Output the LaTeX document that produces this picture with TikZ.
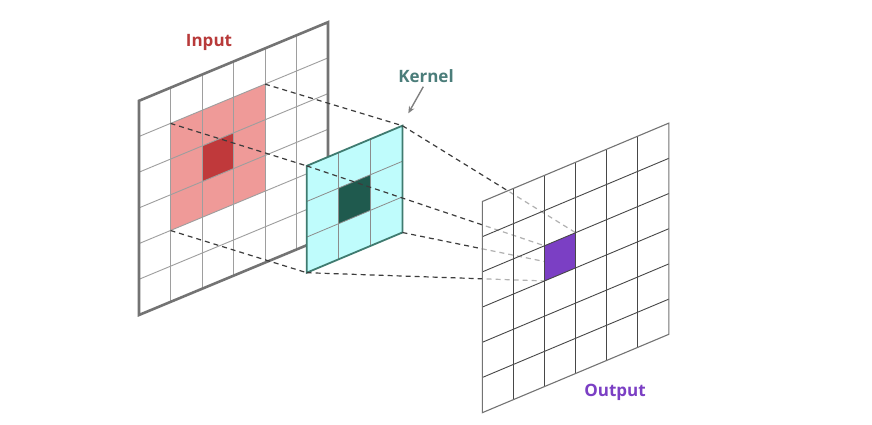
\documentclass[tikz,border=0pt]{standalone}
\usepackage{fontspec}
\setmainfont{Open Sans}
\usetikzlibrary{arrows.meta}
\definecolor{inred}{HTML}{B83A3A}
\definecolor{redlight}{HTML}{EF9A98}
\definecolor{reddark}{HTML}{C0393B}
\definecolor{kteal}{HTML}{4B7D7A}
\definecolor{kfill}{HTML}{BFFCFC}
\definecolor{kdark}{HTML}{1F5A4E}
\definecolor{kborder}{HTML}{3F7B70}
\definecolor{outpurple}{HTML}{7B3FC4}
\definecolor{dashgray}{HTML}{3C3C3C}
\tikzset{
  ingrid/.style={draw=black!38, line width=0.9pt},
  inborder/.style={draw=black!55, line width=2.6pt, line join=miter},
  kgrid/.style={draw=black!45, line width=0.8pt},
  kframe/.style={draw=kborder, line width=1.8pt},
  outgrid/.style={draw=black!72, line width=0.9pt},
  outframe/.style={draw=black!55, line width=1.1pt},
  dashline/.style={draw=dashgray, line width=1.2pt, dash pattern=on 5pt off 4pt},
  lbl/.style={font=\bfseries\fontsize{17}{19}\selectfont, inner sep=0pt},
}
\begin{document}
\begin{tikzpicture}[x=1pt,y=-1pt]
\useasboundingbox[fill=white] (0,0) rectangle (872,425);

% ---------- Input plane ----------
\begin{scope}[shift={(139,315)}, x={(31.5pt,13.1pt)}, y={(0pt,35.7pt)}]
  \fill[white] (0,0) -- (6,0) -- (6,6) -- (0,6) -- cycle;
  \fill[redlight] (1,2) -- (4,2) -- (4,5) -- (1,5) -- cycle;
  \fill[reddark] (2,3) -- (3,3) -- (3,4) -- (2,4) -- cycle;
  \foreach \i in {1,...,5} {
    \draw[ingrid] (\i,0) -- (\i,6);
    \draw[ingrid] (0,\i) -- (6,\i);
  }
  \draw[inborder] (0,0) -- (6,0) -- (6,6) -- (0,6) -- cycle;
  \coordinate (intl) at (1,5);
  \coordinate (intr) at (4,5);
  \coordinate (inbl) at (1,2);
\end{scope}

% ---------- Kernel plane coordinates ----------
\begin{scope}[shift={(306.7,272.7)}, x={(31.9pt,13.4pt)}, y={(0pt,35.6pt)}]
  \coordinate (ktl) at (0,3);
  \coordinate (ktr) at (3,3);
  \coordinate (kbl) at (0,0);
  \coordinate (kbr) at (3,0);
\end{scope}

% dashed lines input -> kernel
\draw[dashline] (intl) -- (ktl);
\draw[dashline] (intr) -- (ktr);
\draw[dashline] (inbl) -- (kbl);

% ---------- Kernel plane ----------
\begin{scope}[shift={(306.7,272.7)}, x={(31.9pt,13.4pt)}, y={(0pt,35.6pt)}]
  \fill[kfill] (0,0) -- (3,0) -- (3,3) -- (0,3) -- cycle;
  \fill[kdark] (1,1) -- (2,1) -- (2,2) -- (1,2) -- cycle;
  \foreach \i in {1,2} {
    \draw[kgrid] (\i,0) -- (\i,3);
    \draw[kgrid] (0,\i) -- (3,\i);
  }
  \draw[kframe] (0,0) -- (3,0) -- (3,3) -- (0,3) -- cycle;
\end{scope}

% ---------- Output plane coordinates ----------
\begin{scope}[shift={(482.3,412.7)}, x={(31.1pt,13.07pt)}, y={(0pt,35.2pt)}]
  \coordinate (otl) at (2,4);
  \coordinate (otr) at (3,4);
  \coordinate (obl) at (2,3);
  \coordinate (obr) at (3,3);
\end{scope}

% dashed lines kernel -> output
\draw[dashline] (ktl) -- (otl);
\draw[dashline] (ktr) -- (otr);
\draw[dashline] (kbr) -- (obr);
\draw[dashline] (kbl) -- (obl);

% ---------- Output plane ----------
\begin{scope}[shift={(482.3,412.7)}, x={(31.1pt,13.07pt)}, y={(0pt,35.2pt)}]
  \fill[white, fill opacity=0.6] (0,0) -- (6,0) -- (6,6) -- (0,6) -- cycle;
  \fill[outpurple] (2,3) -- (3,3) -- (3,4) -- (2,4) -- cycle;
  \foreach \i in {1,...,5} {
    \draw[outgrid] (\i,0) -- (\i,6);
    \draw[outgrid] (0,\i) -- (6,\i);
  }
  \draw[outframe] (0,0) -- (6,0) -- (6,6) -- (0,6) -- cycle;
\end{scope}

% ---------- Labels ----------
\node[lbl, text=inred] (inlabel) at (209,42) {Input};
\node[lbl, text=kteal] (klabel) at (426,76) {Kernel};
\node[lbl, text=outpurple] (outlabel) at (615,392) {Output};
\coordinate (arrS) at (423.3,86.7);
\coordinate (arrE) at (408.3,113.3);
\draw[draw=black!50, line width=1.4pt, -{Stealth[length=7pt,width=6pt]}] (arrS) -- (arrE);
\end{tikzpicture}
\end{document}
